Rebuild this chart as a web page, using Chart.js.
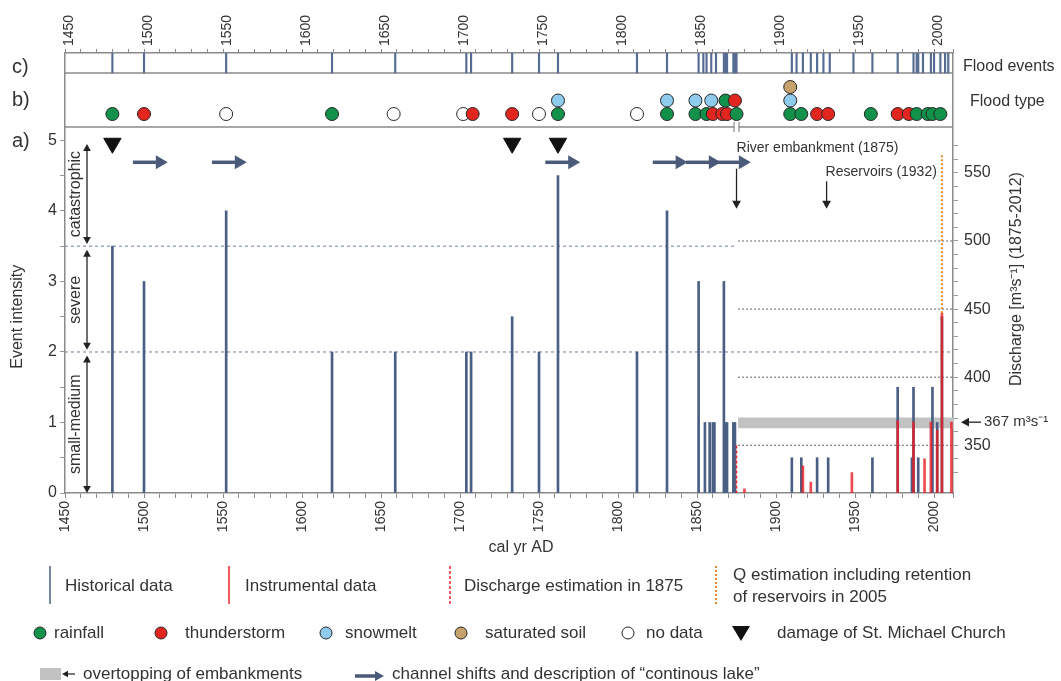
<!DOCTYPE html>
<html>
<head>
<meta charset="utf-8">
<script src="https://cdn.jsdelivr.net/npm/chart.js"></script>
<style>
  html, body { margin: 0; padding: 0; background: #fff; }
  #wrap { width: 1061px; height: 681px; }
</style>
</head>
<body>
<div id="wrap"><canvas id="floodChart" width="1061" height="681"></canvas></div>
<script>
// c) all recorded flood events
const eventYears = [1480, 1500, 1552, 1619, 1659, 1704, 1707, 1733, 1750, 1762, 1812, 1831,
  1851, 1854, 1856, 1859, 1862, 1867, 1868, 1869, 1873, 1874, 1875,
  1910, 1913, 1917, 1922, 1926, 1930, 1934, 1949, 1961, 1977, 1987, 1989, 1990, 1993,
  1998, 2000, 2004, 2007, 2009];

// a) historical event intensity (left axis)
const histYears =     [1480, 1500, 1552, 1619, 1659, 1704, 1707, 1733, 1750, 1762,
  1812, 1831, 1851, 1855, 1858, 1860, 1861, 1867, 1868, 1869,
  1873, 1874, 1910, 1916, 1926, 1933, 1961, 1977, 1986, 1987,
  1990, 1999, 2002, 2005];
const histIntensity = [3.5, 3, 4, 2, 2, 2, 2, 2.5, 2, 4.5,
  2, 4, 3, 1, 1, 1, 1, 3, 1, 1,
  1, 1, 0.5, 0.5, 0.5, 0.5, 0.5, 1.5, 0.5, 1.5,
  0.5, 1.5, 1, 2.5];

// a) instrumental peak discharge 1875-2012 (right axis, m3/s)
const instrYears =     [1880, 1917, 1922, 1948, 1977, 1987, 1994, 1998, 2002, 2005, 2011];
const instrDischarge = [318, 335, 323, 330, 368, 367, 340, 367, 361, 447, 367];
const discharge1875 = 350;
const reservoirQ2005 = [447, 563];
const overtoppingBand = [362.5, 370.5];
const dischargeRefLines = [350, 400, 450, 500];

// b) flood type, row = stacking position in the strip
const rainfallYears = [1480, 1619, 1762, 1831, 1849, 1856, 1868, 1875, 1909, 1916, 1960, 1989, 1996, 1999, 2004];
const rainfallRows  = [1, 1, 1, 1, 1, 1, 2, 1, 1, 1, 1, 1, 1, 1, 1];
const thunderYears  = [1500, 1708, 1733, 1860, 1866, 1869, 1874, 1926, 1933, 1977, 1984];
const thunderRows   = [1, 1, 1, 1, 1, 1, 2, 1, 1, 1, 1];
const snowmeltYears = [1762, 1831, 1849, 1859, 1909];
const snowmeltRows  = [2, 2, 2, 2, 2];
const soilYears     = [1909];
const soilRows      = [3];
const noDataYears   = [1552, 1658, 1702, 1750, 1812];
const noDataRows    = [1, 1, 1, 1, 1];

const damageYears = [1480, 1733, 1762];
const channelShiftYears = [1493, 1543, 1754, 1822, 1843, 1862];

const FONT = '"Liberation Sans", Arial, Helvetica, sans-serif';
const HIST = '#4a5f84';
const INSTR = 'rgba(232, 30, 36, 0.8)';
const FRAME = '#8a8a8a';
const TYPE_COLORS = { rain: '#12914a', thunder: '#e2261f', snow: '#8ecbec', soil: '#c5a26b', none: '#ffffff' };

Chart.defaults.font.family = FONT;
Chart.defaults.color = '#333';

// panel b / c bands on the hidden strip axis
const STRIP_B_LOW = 0.04, STRIP_C_LOW = 4.04, STRIP_TOP = 5.52;

const typePoints = [];
function addType(years, rows, color) {
  years.forEach((yr, i) => typePoints.push({ x: yr, y: rows[i], c: color }));
}
addType(noDataYears, noDataRows, TYPE_COLORS.none);
addType(rainfallYears, rainfallRows, TYPE_COLORS.rain);
addType(thunderYears, thunderRows, TYPE_COLORS.thunder);
addType(snowmeltYears, snowmeltRows, TYPE_COLORS.snow);
addType(soilYears, soilRows, TYPE_COLORS.soil);
typePoints.sort((a, b) => a.x - b.x || a.y - b.y);

const flatLine = (y, x0, x1, axis, color, dash, width) => ({
  type: 'line', yAxisID: axis, data: [{ x: x0, y }, { x: x1, y }],
  borderColor: color, borderDash: dash, borderWidth: width, pointRadius: 0, fill: false
});

const datasets = [
  {
    type: 'scatter', label: 'Flood type', yAxisID: 'yType',
    data: typePoints.map(p => ({ x: p.x, y: p.y })),
    pointRadius: 6.5, pointBorderWidth: 1, pointBorderColor: '#262626',
    pointBackgroundColor: typePoints.map(p => p.c)
  },
  {
    type: 'scatter', label: 'damage of St. Michael Church', yAxisID: 'y',
    data: damageYears.map(x => ({ x, y: 4.96 })),
    pointStyle: 'triangle', rotation: 180, pointRadius: 10,
    pointBackgroundColor: '#111', pointBorderColor: '#111'
  },
  ...channelShiftYears.map(x => ({
    type: 'line', yAxisID: 'y', data: [{ x, y: 4.69 }, { x: x + 17, y: 4.69 }],
    borderColor: '#4a5a78', borderWidth: 3.5, pointRadius: [0, 4.5],
    pointStyle: 'triangle', rotation: 90,
    pointBackgroundColor: '#4a5a78', pointBorderColor: '#4a5a78'
  })),
  {
    type: 'line', yAxisID: 'y2', data: [{ x: 2005, y: reservoirQ2005[0] }, { x: 2005, y: reservoirQ2005[1] }],
    borderColor: '#e58a2c', borderWidth: 2, borderDash: [2, 2], pointRadius: 0
  },
  {
    type: 'line', yAxisID: 'y2', data: [{ x: 1875, y: 300 }, { x: 1875, y: discharge1875 }],
    borderColor: '#e8262b', borderWidth: 1.5, borderDash: [3, 2], pointRadius: 0
  },
  {
    type: 'bar', label: 'Instrumental data', yAxisID: 'y2', grouped: false,
    data: instrYears.map((x, i) => ({ x, y: instrDischarge[i] })),
    backgroundColor: INSTR, barThickness: 2
  },
  {
    type: 'bar', label: 'Historical data', yAxisID: 'y', grouped: false,
    data: histYears.map((x, i) => ({ x, y: histIntensity[i] })),
    backgroundColor: HIST, barThickness: 2
  },
  {
    type: 'bar', label: 'Flood events', yAxisID: 'yType', grouped: false,
    data: eventYears.map(x => ({ x, y: [STRIP_C_LOW, STRIP_TOP] })),
    backgroundColor: '#566c92', barThickness: 1.5
  },
  // overtopping band (lower edge, then upper filled to it)
  {
    type: 'line', yAxisID: 'y2', data: [{ x: 1876, y: overtoppingBand[0] }, { x: 2012, y: overtoppingBand[0] }],
    borderWidth: 0, pointRadius: 0, fill: false
  },
  {
    type: 'line', yAxisID: 'y2', data: [{ x: 1876, y: overtoppingBand[1] }, { x: 2012, y: overtoppingBand[1] }],
    borderWidth: 0, pointRadius: 0, fill: '-1', backgroundColor: '#c2c2c2'
  },
  ...dischargeRefLines.map(v => flatLine(v, 1876, 2012, 'y2', '#7a7a7a', [2, 2], 1.2)),
  flatLine(2, 1450, 2012, 'y', '#8595ad', [3, 3], 1.2),
  flatLine(3.5, 1450, 1875, 'y', '#8595ad', [3, 3], 1.2),
  flatLine(STRIP_B_LOW, 1450, 2012, 'yType', FRAME, [], 1.5),
  flatLine(STRIP_C_LOW, 1450, 2012, 'yType', FRAME, [], 1.5)
];

function arrowHead(ctx, x, y, dir, s) {
  ctx.beginPath();
  if (dir === 'down') { ctx.moveTo(x, y); ctx.lineTo(x - s * 0.55, y - s); ctx.lineTo(x + s * 0.55, y - s); }
  if (dir === 'up') { ctx.moveTo(x, y); ctx.lineTo(x - s * 0.55, y + s); ctx.lineTo(x + s * 0.55, y + s); }
  if (dir === 'left') { ctx.moveTo(x, y); ctx.lineTo(x + s, y - s * 0.55); ctx.lineTo(x + s, y + s * 0.55); }
  if (dir === 'right') { ctx.moveTo(x, y); ctx.lineTo(x - s, y - s * 0.55); ctx.lineTo(x - s, y + s * 0.55); }
  ctx.closePath();
  ctx.fill();
}

function vline(ctx, x, y0, y1, color, w, dash) {
  ctx.save();
  ctx.strokeStyle = color; ctx.lineWidth = w; ctx.setLineDash(dash || []);
  ctx.beginPath(); ctx.moveTo(x, y0); ctx.lineTo(x, y1); ctx.stroke();
  ctx.restore();
}

function dot(ctx, x, y, r, fill) {
  ctx.beginPath(); ctx.arc(x, y, r, 0, Math.PI * 2);
  ctx.fillStyle = fill; ctx.fill();
  ctx.lineWidth = 1; ctx.strokeStyle = '#262626'; ctx.stroke();
}

const extras = {
  id: 'extras',
  afterDraw(chart) {
    const ctx = chart.ctx;
    const sx = chart.scales.x, sy = chart.scales.y, sq = chart.scales.y2, st = chart.scales.yType;
    ctx.save();
    ctx.fillStyle = '#333';
    ctx.textBaseline = 'middle';

    // panel letters and strip names
    ctx.font = `20px ${FONT}`;
    ctx.textAlign = 'left';
    ctx.fillText('c)', 12, 67);
    ctx.fillText('b)', 12, 100);
    ctx.fillText('a)', 12, 141);
    ctx.font = `16px ${FONT}`;
    ctx.fillText('Flood events', 963, 67);
    ctx.fillText('Flood type', 970, 102);

    // axis break at 1875
    const xb = sx.getPixelForValue(1875), yb = st.getPixelForValue(STRIP_B_LOW);
    ctx.fillStyle = '#fff';
    ctx.fillRect(xb - 2, yb - 2, 4, 4);
    vline(ctx, xb - 2.5, yb - 5, yb + 5, FRAME, 1.2);
    vline(ctx, xb + 2.5, yb - 5, yb + 5, FRAME, 1.2);

    // intensity classes
    const classes = [['catastrophic', 4.95, 3.53], ['severe', 3.45, 2.03], ['small-medium', 1.95, 0]];
    classes.forEach(([name, hi, lo]) => {
      const y0 = sy.getPixelForValue(hi), y1 = sy.getPixelForValue(lo);
      vline(ctx, 87, y0 + 5, y1 - 5, '#222', 1.3);
      ctx.fillStyle = '#222';
      arrowHead(ctx, 87, y0, 'up', 7);
      arrowHead(ctx, 87, y1, 'down', 7);
      ctx.save();
      ctx.translate(76, (y0 + y1) / 2);
      ctx.rotate(-Math.PI / 2);
      ctx.textAlign = 'center';
      ctx.font = `16px ${FONT}`;
      ctx.fillStyle = '#333';
      ctx.fillText(name, 0, 0);
      ctx.restore();
    });

    // axis titles
    ctx.save();
    ctx.translate(18, sy.getPixelForValue(2.5));
    ctx.rotate(-Math.PI / 2);
    ctx.textAlign = 'center';
    ctx.font = `16px ${FONT}`;
    ctx.fillStyle = '#333';
    ctx.fillText('Event intensity', 0, 0);
    ctx.restore();
    ctx.save();
    ctx.translate(1017, sq.getPixelForValue(472));
    ctx.rotate(-Math.PI / 2);
    ctx.textAlign = 'center';
    ctx.font = `16px ${FONT}`;
    ctx.fillStyle = '#333';
    ctx.fillText('Discharge [m³s⁻¹] (1875-2012)', 0, 0);
    ctx.restore();
    ctx.font = `16px ${FONT}`;
    ctx.fillStyle = '#333';
    ctx.textAlign = 'center';
    ctx.fillText('cal yr AD', 521, 548);
    ctx.textAlign = 'left';

    // embankment and reservoir notes
    ctx.font = `14px ${FONT}`;
    const xe = sx.getPixelForValue(1875), xr = sx.getPixelForValue(1932);
    ctx.fillText('River embankment (1875)', xe, sy.getPixelForValue(4.89));
    ctx.fillText('Reservoirs (1932)', xr - 1, sy.getPixelForValue(4.55));
    ctx.fillStyle = '#222';
    vline(ctx, xe, sy.getPixelForValue(4.6), sy.getPixelForValue(4.12), '#222', 1.3);
    arrowHead(ctx, xe, sy.getPixelForValue(4.03), 'down', 8);
    vline(ctx, xr, sy.getPixelForValue(4.42), sy.getPixelForValue(4.12), '#222', 1.3);
    arrowHead(ctx, xr, sy.getPixelForValue(4.03), 'down', 8);

    // 367 m3/s marker
    const y367 = sq.getPixelForValue(367);
    ctx.strokeStyle = '#222'; ctx.lineWidth = 1.3;
    ctx.beginPath(); ctx.moveTo(968, y367); ctx.lineTo(981, y367); ctx.stroke();
    arrowHead(ctx, 961, y367, 'left', 8);
    ctx.fillStyle = '#333';
    ctx.font = `15px ${FONT}`;
    ctx.fillText('367 m³s⁻¹', 984, y367);

    // legend
    ctx.font = `17px ${FONT}`;
    ctx.fillStyle = '#333';
    vline(ctx, 50, 566, 604, HIST, 1.5);
    ctx.fillText('Historical data', 65, 586);
    vline(ctx, 229, 566, 604, '#e8262b', 1.5);
    ctx.fillText('Instrumental data', 245, 586);
    vline(ctx, 450, 566, 604, '#e8262b', 1.5, [3, 2]);
    ctx.fillText('Discharge estimation in 1875', 464, 586);
    vline(ctx, 716, 566, 604, '#e58a2c', 2, [2, 2]);
    ctx.fillText('Q estimation including retention', 733, 575);
    ctx.fillText('of reservoirs in 2005', 733, 597);

    const row2 = 633;
    [[40, TYPE_COLORS.rain, 'rainfall', 54], [161, TYPE_COLORS.thunder, 'thunderstorm', 185],
     [326, TYPE_COLORS.snow, 'snowmelt', 345], [461, TYPE_COLORS.soil, 'saturated soil', 485],
     [628, TYPE_COLORS.none, 'no data', 646]].forEach(([x, c, label, tx]) => {
      dot(ctx, x, row2, 6, c);
      ctx.fillStyle = '#333';
      ctx.fillText(label, tx, row2);
    });
    ctx.fillStyle = '#111';
    ctx.beginPath(); ctx.moveTo(732, row2 - 7); ctx.lineTo(750, row2 - 7); ctx.lineTo(741, row2 + 8); ctx.closePath(); ctx.fill();
    ctx.fillStyle = '#333';
    ctx.fillText('damage of St. Michael Church', 777, row2);

    const row3 = 674;
    ctx.fillStyle = '#c2c2c2';
    ctx.fillRect(40, row3 - 6, 21, 12);
    ctx.strokeStyle = '#222'; ctx.lineWidth = 1.2;
    ctx.beginPath(); ctx.moveTo(66, row3); ctx.lineTo(75, row3); ctx.stroke();
    ctx.fillStyle = '#222';
    arrowHead(ctx, 62, row3, 'left', 6);
    ctx.fillStyle = '#333';
    ctx.fillText('overtopping of embankments', 83, row3);
    ctx.strokeStyle = '#4a5a78'; ctx.lineWidth = 3.5;
    ctx.beginPath(); ctx.moveTo(355, row3 + 2); ctx.lineTo(376, row3 + 2); ctx.stroke();
    ctx.fillStyle = '#4a5a78';
    arrowHead(ctx, 384, row3 + 2, 'right', 9);
    ctx.fillStyle = '#333';
    ctx.fillText('channel shifts and description of \u201ccontinous lake\u201d', 392, row3);

    ctx.restore();
  }
};

const yearTicks = {
  stepSize: 10, autoSkip: false, minRotation: 90, maxRotation: 90, padding: 3,
  color: '#333', font: { size: 14 },
  callback: v => (v % 50 === 0 ? String(v) : '')
};

new Chart(document.getElementById('floodChart').getContext('2d'), {
  type: 'bar',
  data: { datasets },
  plugins: [extras],
  options: {
    responsive: false,
    animation: false,
    events: [],
    layout: { padding: { top: 0, left: 0, right: 28, bottom: 121 } },
    plugins: { legend: { display: false }, tooltip: { enabled: false } },
    scales: {
      x: {
        type: 'linear', position: 'bottom', min: 1450, max: 2012, offset: false,
        afterFit: s => { s.height = 67; },
        ticks: yearTicks,
        grid: { drawOnChartArea: false, offset: false, tickLength: 5, color: FRAME },
        border: { color: FRAME, width: 1.5 }
      },
      xTop: {
        type: 'linear', position: 'top', min: 1450, max: 2012, offset: false,
        afterFit: s => { s.height = 53; },
        ticks: { ...yearTicks, labelOffset: 21 },
        grid: { drawOnChartArea: false, offset: false, tickLength: 4, color: FRAME },
        border: { color: FRAME, width: 1.5 }
      },
      y: {
        position: 'left', min: 0, max: 6.24,
        afterFit: s => { s.width = 65; },
        ticks: {
          stepSize: 0.5, autoSkip: false, padding: 3, font: { size: 16 }, color: '#333',
          callback: v => (Number.isInteger(v) && v <= 5 ? String(v) : '')
        },
        grid: {
          drawOnChartArea: false, tickLength: 5,
          color: c => (c.tick && c.tick.value <= 5 ? '#999' : 'rgba(0,0,0,0)')
        },
        border: { color: FRAME, width: 1.5 }
      },
      y2: {
        position: 'right', min: 315, max: 638,
        afterFit: s => { s.width = 80; },
        ticks: {
          stepSize: 10, autoSkip: false, padding: 6, font: { size: 16 }, color: '#333',
          callback: v => (v % 50 === 0 && v >= 350 && v <= 550 ? String(v) : '')
        },
        grid: {
          drawOnChartArea: false, tickLength: 5,
          color: c => (c.tick && c.tick.value >= 320 && c.tick.value <= 570 && c.tick.value % 10 === 0 ? '#999' : 'rgba(0,0,0,0)')
        },
        border: { color: FRAME, width: 1.5 }
      },
      yType: { display: false, min: -27.07, max: STRIP_TOP }
    }
  }
});
</script>
</body>
</html>
